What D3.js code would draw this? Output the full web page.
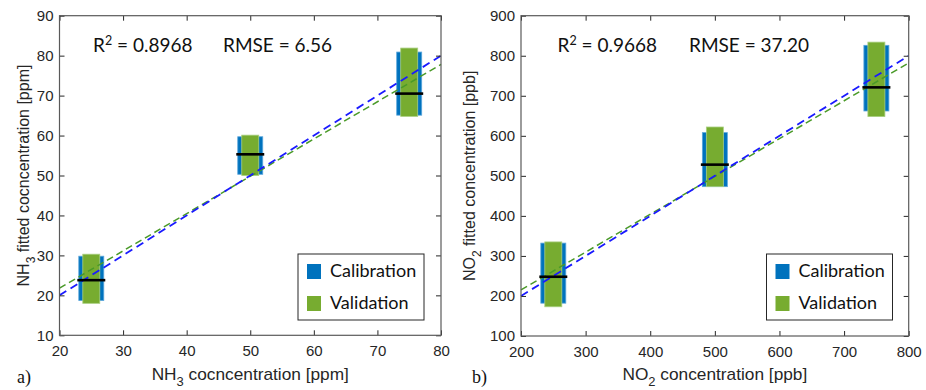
<!DOCTYPE html>
<html>
<head>
<meta charset="utf-8">
<script src="https://cdn.jsdelivr.net/npm/d3@7"></script>
<style>
  body { margin: 0; background: #fff; }
  svg { display: block; }
</style>
</head>
<body>
<svg id="chart" width="926" height="390"></svg>
<script>
// NH3 panel (a)
const nh3Levels = [25, 50, 75];
const nh3CalLow = [18.7, 50.3, 65.1];
const nh3CalHigh = [29.8, 59.7, 80.9];
const nh3ValLow = [18.0, 50.0, 64.8];
const nh3ValHigh = [30.3, 60.1, 81.9];
const nh3Median = [23.8, 55.3, 70.5];
const nh3FitX = [20, 80];
const nh3CalFit = [20, 80];
const nh3ValFit = [21.8, 77.8];
const nh3XTicks = [20, 30, 40, 50, 60, 70, 80];
const nh3YTicks = [10, 20, 30, 40, 50, 60, 70, 80, 90];

// NO2 panel (b)
const no2Levels = [250, 500, 750];
const no2CalLow = [182, 473, 662];
const no2CalHigh = [332, 608, 826];
const no2ValLow = [173, 473, 648];
const no2ValHigh = [335, 622, 834];
const no2Median = [248, 528, 721];
const no2FitX = [200, 800];
const no2CalFit = [200, 800];
const no2ValFit = [215, 782];
const no2XTicks = [200, 300, 400, 500, 600, 700, 800];
const no2YTicks = [100, 200, 300, 400, 500, 600, 700, 800, 900];

const legendLabels = ["Calibration", "Validation"];

const blue = "#0072BD", green = "#77AC30";
const axisColor = "#262626";
const svg = d3.select("#chart");

function drawPanel(p) {
    const x = d3.scaleLinear().domain(d3.extent(p.xTicks)).range([p.left, p.right]);
    const y = d3.scaleLinear().domain(d3.extent(p.yTicks)).range([p.bottom, p.top]);
    const g = svg.append("g");

    // bars
    p.levels.forEach((lv, i) => {
        g.append("rect")
            .attr("x", x(lv) - 12.5).attr("width", 25)
            .attr("y", y(p.calHigh[i])).attr("height", y(p.calLow[i]) - y(p.calHigh[i]))
            .attr("fill", blue).attr("stroke", "#5aa6dc").attr("stroke-width", 0.8);
        g.append("rect")
            .attr("x", x(lv) - 8.5).attr("width", 17)
            .attr("y", y(p.valHigh[i])).attr("height", y(p.valLow[i]) - y(p.valHigh[i]))
            .attr("fill", green).attr("stroke", "#a9cf80").attr("stroke-width", 0.8);
    });

    // fit lines
    g.append("line")
        .attr("x1", x(p.fitX[0])).attr("x2", x(p.fitX[1]))
        .attr("y1", y(p.valFit[0])).attr("y2", y(p.valFit[1]))
        .attr("stroke", "#4a9a28").attr("stroke-width", 1.5)
        .attr("stroke-dasharray", "7,4");
    g.append("line")
        .attr("x1", x(p.fitX[0])).attr("x2", x(p.fitX[1]))
        .attr("y1", y(p.calFit[0])).attr("y2", y(p.calFit[1]))
        .attr("stroke", "#1a1aff").attr("stroke-width", 1.8)
        .attr("stroke-dasharray", "8,5");

    // medians
    p.levels.forEach((lv, i) => {
        g.append("line")
            .attr("x1", x(lv) - 14).attr("x2", x(lv) + 14)
            .attr("y1", y(p.median[i])).attr("y2", y(p.median[i]))
            .attr("stroke", "#000").attr("stroke-width", 2.6);
    });

    // axes (ticks inward on all four sides)
    const styleAxis = sel => {
        sel.select(".domain").remove();
        sel.selectAll(".tick line").attr("stroke", axisColor);
        sel.selectAll("text").attr("fill", axisColor)
            .style("font-family", "'Liberation Sans', Arial, sans-serif").style("font-size", "15px");
    };
    g.append("g").attr("transform", `translate(0,${p.bottom})`)
        .call(d3.axisBottom(x).tickValues(p.xTicks).tickSize(-5).tickPadding(10))
        .call(styleAxis);
    g.append("g").attr("transform", `translate(0,${p.top})`)
        .call(d3.axisTop(x).tickValues(p.xTicks).tickSize(-5).tickFormat(""))
        .call(styleAxis);
    g.append("g").attr("transform", `translate(${p.left},0)`)
        .call(d3.axisLeft(y).tickValues(p.yTicks).tickSize(-5).tickPadding(6))
        .call(styleAxis);
    g.append("g").attr("transform", `translate(${p.right},0)`)
        .call(d3.axisRight(y).tickValues(p.yTicks).tickSize(-5).tickFormat(""))
        .call(styleAxis);
    g.append("rect")
        .attr("x", p.left).attr("y", p.top)
        .attr("width", p.right - p.left).attr("height", p.bottom - p.top)
        .attr("fill", "none").attr("stroke", "#5a5a5a").attr("stroke-width", 1.2);

    // stats text
    const stat = g.append("text").attr("x", p.statX).attr("y", 52)
        .style("font-family", "Lato, 'Open Sans', sans-serif").style("font-size", "19px")
        .attr("fill", "#111");
    stat.append("tspan").text("R");
    stat.append("tspan").text("2").attr("dy", -7).style("font-size", "12.5px");
    stat.append("tspan").text(" = " + p.r2).attr("dy", 7);
    g.append("text").attr("x", p.rmseX).attr("y", 52)
        .style("font-family", "Lato, 'Open Sans', sans-serif").style("font-size", "19px")
        .attr("fill", "#111").text("RMSE = " + p.rmse);

    // legend
    const lg = g.append("g").attr("transform", `translate(${p.legendX},254)`);
    lg.append("rect").attr("width", 126).attr("height", 66)
        .attr("fill", "#fff").attr("stroke", axisColor).attr("stroke-width", 1);
    [blue, green].forEach((c, i) => {
        lg.append("rect").attr("x", 9).attr("y", 10 + i * 32).attr("width", 14).attr("height", 15)
            .attr("fill", c);
        lg.append("text").attr("x", 32).attr("y", 23 + i * 32)
            .style("font-family", "Lato, 'Open Sans', sans-serif").style("font-size", "18px")
            .attr("fill", "#111").text(legendLabels[i]);
    });

    // axis labels
    const labFont = "'Liberation Sans', Arial, sans-serif";
    const cx = (p.left + p.right) / 2;
    const xl = g.append("text")
        .attr("transform", `translate(${cx},380) scale(1.08,1)`)
        .attr("text-anchor", "middle").attr("fill", axisColor)
        .style("font-family", labFont).style("font-size", "16px");
    xl.append("tspan").text(p.gasMain);
    xl.append("tspan").text(p.gasSub).attr("dy", 6).style("font-size", "12px");
    xl.append("tspan").text(" " + p.xLabel).attr("dy", -6);

    const yl = g.append("text")
        .attr("transform", `translate(${p.yLabelX},${(p.top + p.bottom) / 2}) rotate(-90)`)
        .attr("text-anchor", "middle").attr("fill", axisColor)
        .style("font-family", labFont).style("font-size", "16px");
    yl.append("tspan").text(p.gasMain);
    yl.append("tspan").text(p.gasSub).attr("dy", 6).style("font-size", "12px");
    yl.append("tspan").text(" " + p.yLabel).attr("dy", -6);

    g.append("text").attr("x", p.tagX).attr("y", 383)
        .style("font-family", "'Liberation Serif', 'Times New Roman', serif").style("font-size", "18px")
        .attr("fill", "#111").text(p.tag);
}

drawPanel({
    left: 59.5, right: 441, top: 15.7, bottom: 335.3,
    levels: nh3Levels, calLow: nh3CalLow, calHigh: nh3CalHigh,
    valLow: nh3ValLow, valHigh: nh3ValHigh, median: nh3Median,
    fitX: nh3FitX, calFit: nh3CalFit, valFit: nh3ValFit,
    xTicks: nh3XTicks, yTicks: nh3YTicks,
    r2: "0.8968", rmse: "6.56", statX: 93, rmseX: 223,
    legendX: 298, gasMain: "NH", gasSub: "3",
    xLabel: "cocncentration [ppm]", yLabel: "fitted cocncentration [ppm]",
    yLabelX: 29, tag: "a)", tagX: 17
});

drawPanel({
    left: 521, right: 908.7, top: 15.7, bottom: 336,
    levels: no2Levels, calLow: no2CalLow, calHigh: no2CalHigh,
    valLow: no2ValLow, valHigh: no2ValHigh, median: no2Median,
    fitX: no2FitX, calFit: no2CalFit, valFit: no2ValFit,
    xTicks: no2XTicks, yTicks: no2YTicks,
    r2: "0.9668", rmse: "37.20", statX: 557.5, rmseX: 689,
    legendX: 766.5, gasMain: "NO", gasSub: "2",
    xLabel: "concentration [ppb]", yLabel: "fitted concentration [ppb]",
    yLabelX: 475, tag: "b)", tagX: 472
});
</script>
</body>
</html>
